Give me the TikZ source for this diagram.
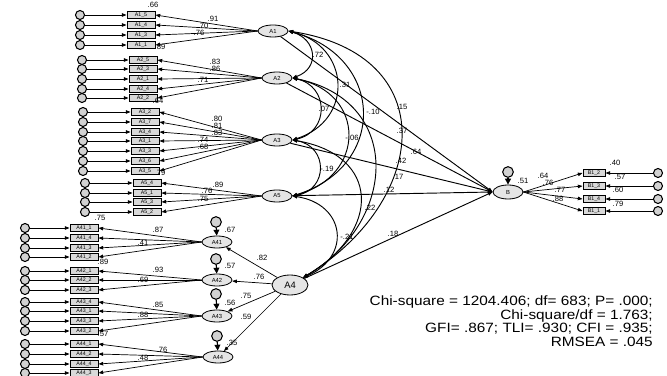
\documentclass[tikz,border=0pt]{standalone}
\usepackage{fontspec}
\setmainfont{Liberation Sans}
\newfontfamily\fitfont[FakeStretch=1.14]{Liberation Sans}
\usetikzlibrary{arrows.meta,positioning,calc,shapes.geometric}

\tikzset{
  obs/.style={draw,line width=0.8pt,fill=gray!30,minimum width=0.84cm,minimum height=0.21cm,inner sep=0pt,font=\fontsize{4.5}{4.5}\selectfont},
  err/.style={circle,draw,line width=0.9pt,fill=gray!35,minimum size=0.27cm,inner sep=0pt},
  latent/.style={ellipse,draw,line width=0.7pt,fill=gray!20,minimum width=0.9cm,minimum height=0.36cm,inner sep=0pt,font=\fontsize{5}{5}\selectfont},
  coef/.style={font=\fontsize{6.5}{6.5}\selectfont,inner sep=0.5pt},
  load/.style={->,line width=0.6pt},
  cov/.style={<->,line width=0.8pt},
}

\begin{document}
\begin{tikzpicture}[x=0.03cm,y=-0.03cm,>={Triangle[length=4pt,width=3pt]}]
\useasboundingbox (0,0) rectangle (667,376);
% latent variables
\node[latent] (A1) at (273,31) {A1};
\node[latent] (A2) at (277,78) {A2};
\node[latent] (A3) at (277,140) {A3};
\node[latent] (A5) at (277,196) {A5};
\node[latent,minimum width=1.08cm,minimum height=0.6cm,font=\fontsize{8}{8}\selectfont] (A4) at (290,285) {A4};
\node[latent] (A41) at (217,242) {A41};
\node[latent] (A42) at (217,280) {A42};
\node[latent] (A43) at (217,316) {A43};
\node[latent] (A44) at (218,357) {A44};
\node[latent,minimum height=0.42cm] (B) at (508,192) {B};

% indicators of A1
\foreach \nm/\yy [count=\i] in {A1\_5/15,A1\_4/25,A1\_3/35,A1\_1/45}{
  \node[obs] (a1o\i) at (141,\yy) {\nm};
  \node[err] (a1e\i) at (80,\yy) {};
  \draw[load] (a1e\i) -- (a1o\i);
  \draw[load] (A1.west) -- (a1o\i.east);
}
% indicators of A2
\foreach \nm/\yy [count=\i] in {A2\_5/60,A2\_3/69,A2\_1/79,A2\_4/89,A2\_2/98}{
  \node[obs] (a2o\i) at (143,\yy) {\nm};
  \node[err] (a2e\i) at (82,\yy) {};
  \draw[load] (a2e\i) -- (a2o\i);
  \draw[load] (A2.west) -- (a2o\i.east);
}
% indicators of A3
\foreach \nm/\yy [count=\i] in {A3\_2/112,A3\_7/122,A3\_4/132,A3\_1/141,A3\_3/151,A3\_6/161,A3\_5/171}{
  \node[obs] (a3o\i) at (145,\yy) {\nm};
  \node[err] (a3e\i) at (83,\yy) {};
  \draw[load] (a3e\i) -- (a3o\i);
  \draw[load] (A3.west) -- (a3o\i.east);
}
% indicators of A5
\foreach \nm/\yy [count=\i] in {A5\_4/183,A5\_1/193,A5\_3/202,A5\_2/212}{
  \node[obs] (a5o\i) at (147,\yy) {\nm};
  \node[err] (a5e\i) at (85,\yy) {};
  \draw[load] (a5e\i) -- (a5o\i);
  \draw[load] (A5.west) -- (a5o\i.east);
}
% indicators of A41
\foreach \nm/\yy [count=\i] in {A41\_1/228,A41\_4/238,A41\_3/248,A41\_2/257}{
  \node[obs] (a41o\i) at (84,\yy) {\nm};
  \node[err] (a41e\i) at (25,\yy) {};
  \draw[load] (a41e\i) -- (a41o\i);
  \draw[load] (A41.west) -- (a41o\i.east);
}
% indicators of A42
\foreach \nm/\yy [count=\i] in {A42\_1/271,A42\_2/280,A42\_3/290}{
  \node[obs] (a42o\i) at (84,\yy) {\nm};
  \node[err] (a42e\i) at (25,\yy) {};
  \draw[load] (a42e\i) -- (a42o\i);
  \draw[load] (A42.west) -- (a42o\i.east);
}
% indicators of A43
\foreach \nm/\yy [count=\i] in {A43\_4/302,A43\_1/311,A43\_3/321,A43\_2/331}{
  \node[obs] (a43o\i) at (84,\yy) {\nm};
  \node[err] (a43e\i) at (25,\yy) {};
  \draw[load] (a43e\i) -- (a43o\i);
  \draw[load] (A43.west) -- (a43o\i.east);
}
% indicators of A44
\foreach \nm/\yy [count=\i] in {A44\_1/344,A44\_2/354,A44\_4/364,A44\_3/373}{
  \node[obs] (a44o\i) at (84,\yy) {\nm};
  \node[err] (a44e\i) at (25,\yy) {};
  \draw[load] (a44e\i) -- (a44o\i);
  \draw[load] (A44.west) -- (a44o\i.east);
}
% indicators of B
\foreach \nm/\yy [count=\i] in {B1\_2/173,B1\_3/186,B1\_4/199,B1\_1/211}{
  \node[obs,minimum width=0.66cm] (bo\i) at (594,\yy) {\nm};
  \node[err] (be\i) at (658,\yy) {};
  \draw[load] (be\i) -- (bo\i);
  \draw[load] (B.east) -- (bo\i.west);
}

% disturbances
\node[err,minimum size=0.32cm] (d41) at (216,222) {};
\node[err,minimum size=0.32cm] (d42) at (216,259) {};
\node[err,minimum size=0.32cm] (d43) at (216,294) {};
\node[err,minimum size=0.32cm] (d44) at (217,336) {};
\node[err,minimum size=0.32cm] (dB) at (508,172) {};
\foreach \d/\t in {d41/A41,d42/A42,d43/A43,d44/A44,dB/B}
  \draw[->,line width=1pt,>={Triangle[length=5pt,width=5pt]}] (\d) -- (\t);

% second order factor
\foreach \t in {A41,A42,A43,A44}
  \draw[load] (A4) -- (\t);

% paths to B
\foreach \s in {A1,A2,A3,A5,A4}
  \draw[load,line width=0.8pt] (\s) -- (B.west);

% covariances
\draw[cov] (A1.east) .. controls +(28,8) and +(28,-10) .. (A2.east);
\draw[cov] (A1.east) .. controls +(62,15) and +(62,-20) .. (A3.east);
\draw[cov] (A1.east) .. controls +(96,25) and +(96,-30) .. (A5.east);
\draw[cov] (A1.east) .. controls +(155,24) and +(126,-77) .. (A4.north east);
\draw[cov] (A2.east) .. controls +(37,8) and +(37,-8) .. (A3.east);
\draw[cov] (A2.east) .. controls +(74,15) and +(74,-20) .. (A5.east);
\draw[cov] (A2.east) .. controls +(110,22) and +(96,-57) .. (A4.north east);
\draw[cov] (A3.east) .. controls +(36,6) and +(36,-6) .. (A5.east);
\draw[cov] (A3.east) .. controls +(88,15) and +(79,-47) .. (A4.north east);
\draw[cov] (A5.east) .. controls +(53,8) and +(49,-21) .. (A4.north east);

% coefficients
\foreach \t/\xx/\yy [count=\k] in {
  .72/318/55, .31/345/85, -.10/373/112, .15/402/107, .07/324/109,
  -.06/352/138, .37/402/131, .64/416/152, .42/401/161, .17/398/177,
  .12/389/190, -.19/327/169, .22/370/208, -.21/347/237, .18/393/234,
  .91/213/19, .70/203/26, .76/199/33, .66/153/5, .89/160/47,
  .83/215/62, .86/215/69, .71/203/80, .64/158/101,
  .80/217/119, .81/217/126, .83/217/133, .74/203/140, .68/203/147, .79/160/173,
  .89/218/185, .76/207/191, .75/203/199, .75/100/218,
  .87/158/230, .41/143/243, .89/103/262,
  .93/158/270, .69/143/280,
  .85/158/305, .88/143/315, .57/103/334,
  .76/162/350, .48/143/358,
  .67/230/230, .57/230/266, .75/246/296, .56/230/303, .59/246/317,
  .82/262/258, .76/259/277, .35/232/343,
  .51/523/181, .64/543/176, .76/548/183, .77/560/190, .88/558/199,
  .40/615/163, .57/620/177, .60/618/190, .79/618/204}
  \node[coef] (c\k) at (\xx,\yy) {\t};

% fit indices
\node[anchor=north east,align=right,inner sep=0pt,font=\fitfont\fontsize{11.5}{11.4}\selectfont] (fit) at (653,296)
  {Chi-square = 1204.406; df= 683; P= .000;\\ Chi-square/df = 1.763;\\ GFI= .867; TLI= .930; CFI = .935;\\ RMSEA = .045};
\end{tikzpicture}
\end{document}
